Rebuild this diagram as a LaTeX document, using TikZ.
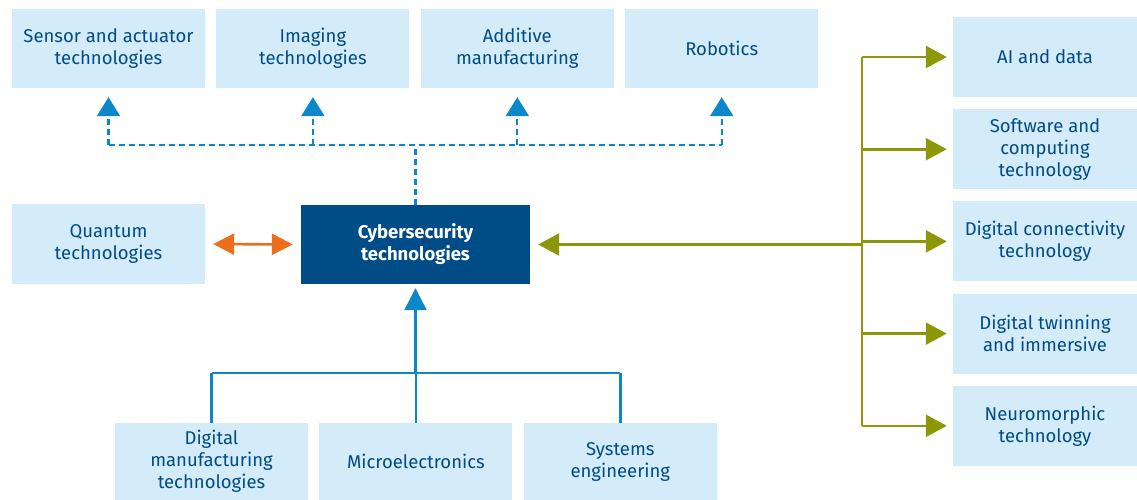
\documentclass[tikz,border=0pt]{standalone}
\usepackage{fontspec}
\setmainfont{Fira Sans}
\usepackage{xcolor}
\usetikzlibrary{arrows.meta,positioning}

\definecolor{boxblue}{RGB}{212,235,250}
\definecolor{darkblue}{RGB}{0,76,134}
\definecolor{lineblue}{RGB}{12,136,202}
\definecolor{orangeline}{RGB}{236,110,26}
\definecolor{oliveline}{RGB}{140,152,10}

\tikzset{
  techbox/.style={fill=boxblue, text=darkblue, minimum width=193pt, minimum height=79pt,
    inner sep=0pt, align=center, font=\fontsize{18.5}{22}\selectfont},
  sidebox/.style={techbox, minimum width=184pt, minimum height=80pt},
  mainbox/.style={techbox, fill=darkblue, text=white, minimum width=229pt,
    font=\fontsize{18.5}{22}\selectfont\bfseries},
  dashlink/.style={draw=lineblue, line width=2.2pt, dash pattern=on 6pt off 4pt},
  bluelink/.style={draw=lineblue, line width=2.4pt},
  orangelink/.style={draw=orangeline, line width=2.6pt},
  olivelink/.style={draw=oliveline, line width=2.6pt},
}

\begin{document}
\begin{tikzpicture}[x=1pt, y=-1pt]
    \useasboundingbox (0,0) rectangle (1137,500);

    % top row
    \node[techbox] (sensor) at (108.5,48.5) {Sensor and actuator\\technologies};
    \node[techbox, right=11pt of sensor] (imaging) {Imaging\\technologies};
    \node[techbox, right=11pt of imaging] (additive) {Additive\\manufacturing};
    \node[techbox, right=11pt of additive] (robotics) {Robotics};

    % middle row
    \node[techbox, minimum height=80pt] (quantum) at (108.5,244) {Quantum\\technologies};
    \node[mainbox] (cyber) at (415.5,244.5) {Cybersecurity\\technologies};

    % bottom row
    \node[techbox, minimum height=77pt] (digman) at (211.5,461.5) {Digital\\manufacturing\\technologies};
    \node[techbox, minimum height=77pt, right=11pt of digman] (micro) {Microelectronics};
    \node[techbox, minimum height=77pt, right=11pt of micro] (syseng) {Systems\\engineering};

    % right column
    \node[sidebox] (aidata) at (1045,57) {AI and data};
    \node[sidebox, below=11.8pt of aidata] (software) {Software and\\computing\\technology};
    \node[sidebox, below=11.8pt of software] (connect) {Digital connectivity\\technology};
    \node[sidebox, below=11.8pt of connect] (twin) {Digital twinning\\and immersive};
    \node[sidebox, below=11.8pt of twin] (neuro) {Neuromorphic\\technology};

    % dashed links to the top row
    \coordinate (topbus) at (415.5,145);
    \draw[dashlink] (cyber.north) -- (topbus);
    \draw[dashlink] (sensor.south |- topbus) -- (robotics.south |- topbus);
    \foreach \n in {sensor,imaging,additive,robotics}
        \draw[dashlink, -{Triangle[length=19pt,width=23pt]}, shorten >=9pt] (\n.south |- topbus) -- (\n.south);

    % quantum
    \draw[orangelink, {Triangle[length=21pt,width=21pt]}-{Triangle[length=21pt,width=21pt]},
        shorten <=8pt, shorten >=8pt] (quantum.east) -- (cyber.west);

    % links to the right column
    \coordinate (rightbus) at (862,244.5);
    \draw[olivelink, -{Triangle[length=21pt,width=22pt]}, shorten >=8pt] (rightbus) -- (cyber.east);
    \draw[olivelink] (rightbus |- aidata.west) -- (rightbus |- neuro.west);
    \foreach \n in {aidata,software,connect,twin,neuro}
        \draw[olivelink, -{Triangle[length=21pt,width=22pt]}, shorten >=6pt] (rightbus |- \n.west) -- (\n.west);

    % bottom links
    \coordinate (botbus) at (415.5,373);
    \draw[bluelink, -{Triangle[length=22pt,width=22pt]}, shorten >=4pt] (botbus) -- (cyber.south);
    \draw[bluelink] (digman.north |- botbus) -- (syseng.north |- botbus);
    \foreach \n in {digman,micro,syseng}
        \draw[bluelink] (\n.north) -- (\n.north |- botbus);
    % \draw[bluelink] (micro.north) -- (cyber.south);
\end{tikzpicture}
\end{document}
